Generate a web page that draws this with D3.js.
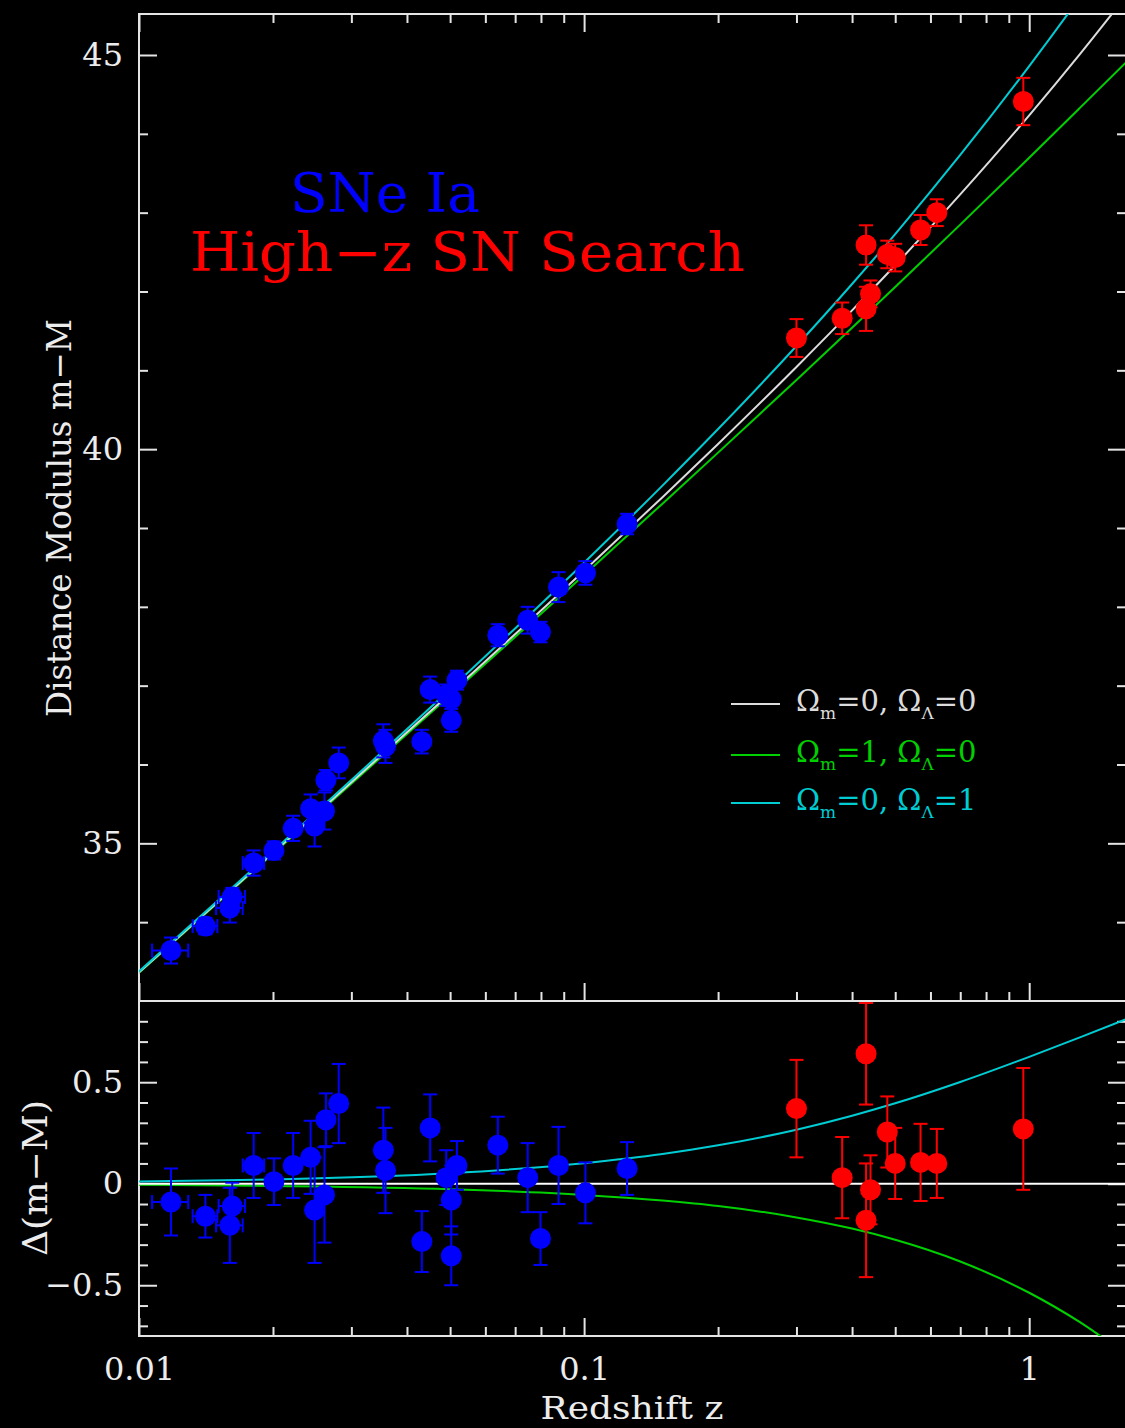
<!DOCTYPE html>
<html lang="en">
<head>
<meta charset="utf-8">
<script src="https://d3js.org/d3.v7.min.js"></script>
<title>SNe Ia Hubble diagram</title>
<style>
  body { margin: 0; background: #000; }
  svg { display: block; }
</style>
</head>
<body>
<script>

// low-z SNe Ia (blue)
var lowZ    = [0.0118, 0.0141, 0.0162, 0.0160, 0.0181, 0.0201, 0.0222, 0.0243, 0.0248, 0.0261, 0.0263, 0.0281, 0.0354,
               0.0358, 0.0432, 0.0451, 0.0490, 0.0518, 0.0503, 0.0503, 0.0640, 0.0747, 0.0798, 0.0876, 0.1007, 0.1249];
var lowZerr = [0.0011, 0.0009, 0.0011, 0.0011, 0.0010, 0, 0, 0, 0, 0, 0, 0, 0,
               0, 0, 0, 0, 0, 0, 0, 0, 0, 0, 0, 0, 0];
var lowMu   = [33.64, 33.95, 34.32, 34.18, 34.75, 34.91, 35.19, 35.44, 35.22, 35.41, 35.80, 36.02, 36.30,
               36.23, 36.29, 36.95, 36.88, 37.07, 36.83, 36.56, 37.64, 37.83, 37.68, 38.25, 38.43, 39.05];
var lowDmu  = [-0.09, -0.16, -0.11, -0.205, 0.09, 0.01, 0.09, 0.13, -0.13, -0.055, 0.315, 0.395, 0.165,
               0.065, -0.285, 0.275, 0.03, 0.09, -0.08, -0.355, 0.19, 0.03, -0.27, 0.09, -0.045, 0.075];
var lowErr  = [0.165, 0.105, 0.115, 0.185, 0.16, 0.115, 0.16, 0.18, 0.26, 0.235, 0.13, 0.195, 0.21,
               0.21, 0.15, 0.165, 0.135, 0.12, 0.17, 0.145, 0.14, 0.17, 0.13, 0.19, 0.15, 0.13];

// High-z SN Search (red)
var highZ   = [0.30, 0.38, 0.43, 0.44, 0.43, 0.48, 0.50, 0.57, 0.62, 0.97];
var highMu  = [41.41, 41.66, 42.59, 41.97, 41.78, 42.47, 42.43, 42.78, 43.00, 44.41];
var highDmu = [0.37, 0.03, 0.64, -0.03, -0.18, 0.255, 0.10, 0.105, 0.10, 0.27];
var highErr = [0.24, 0.20, 0.25, 0.17, 0.28, 0.175, 0.175, 0.19, 0.17, 0.30];

// model curves
var modelZ     = [0.01, 0.02, 0.05, 0.1, 0.15, 0.2, 0.3, 0.4, 0.5, 0.7, 1.0, 1.3, 1.65];
var muEmpty    = [33.364, 34.880, 36.902, 38.459, 39.391, 40.066, 41.043, 41.760, 42.333, 43.231, 44.234, 45.011, 45.747];
var muMatter   = [33.359, 34.869, 36.875, 38.404, 39.309, 39.956, 40.877, 41.539, 42.057, 42.848, 43.697, 44.329, 44.906];
var muLambda   = [33.375, 34.901, 36.954, 38.560, 39.538, 40.255, 41.309, 42.095, 42.729, 43.732, 44.859, 45.732, 46.557];
var resEmpty   = [0, 0, 0, 0, 0, 0, 0, 0, 0, 0, 0, 0, 0];
var resMatter  = [-0.005, -0.011, -0.027, -0.055, -0.083, -0.110, -0.166, -0.221, -0.276, -0.383, -0.537, -0.682, -0.841];
var resLambda  = [0.011, 0.021, 0.052, 0.101, 0.146, 0.189, 0.266, 0.335, 0.396, 0.501, 0.625, 0.721, 0.810];

// ticks
var xMajor      = [0.01, 0.1, 1];
var xMajorLabel = ["0.01", "0.1", "1"];
var xMinor      = [0.02, 0.03, 0.04, 0.05, 0.06, 0.07, 0.08, 0.09, 0.2, 0.3, 0.4, 0.5, 0.6, 0.7, 0.8, 0.9];
var muMajor     = [35, 40, 45];
var muMinor     = [34, 36, 37, 38, 39, 41, 42, 43, 44];
var resMajor      = [-0.5, 0, 0.5];
var resMajorLabel = ["\u22120.5", "0", "0.5"];
var resMinor      = [-0.7, -0.6, -0.4, -0.3, -0.2, -0.1, 0.1, 0.2, 0.3, 0.4, 0.6, 0.7, 0.8];

// legend
var legendOm     = ["0", "1", "0"];
var legendOl     = ["0", "0", "1"];
var legendColors = ["#dcdcdc", "#00d000", "#00ccd4"];

var frameColor = "#e4e4e4";
var serif = "'DejaVu Serif', 'Liberation Serif', serif";

var pLeft = 139, pRight = 1126, pTop = 14, pMid = 1001, pBottom = 1336;

var svg = d3.select("body").append("svg")
  .attr("width", 1125)
  .attr("height", 1428)
  .style("background", "#000");

var x = d3.scaleLog().domain([0.01, 1.65]).range([pLeft, pRight]);
var yMu = d3.scaleLinear().domain([33, 45.52]).range([pMid, pTop]);
var yRes = d3.scaleLinear().domain([-0.75, 0.9]).range([pBottom, pMid]);

var defs = svg.append("defs");
defs.append("clipPath").attr("id", "clipTop").append("rect")
  .attr("x", pLeft).attr("y", pTop).attr("width", pRight - pLeft).attr("height", pMid - pTop);
defs.append("clipPath").attr("id", "clipBot").append("rect")
  .attr("x", pLeft).attr("y", pMid).attr("width", pRight - pLeft).attr("height", pBottom - pMid);

function tickAxis(axis, values, size, tx, ty){
  svg.append("g")
    .attr("transform", "translate(" + tx + "," + ty + ")")
    .attr("color", frameColor)
    .call(axis.tickValues(values).tickSize(-size).tickFormat(""))
    .call(function (g){ g.select(".domain").remove(); })
    .selectAll("line").attr("stroke-width", 2);
}

// top panel ticks
tickAxis(d3.axisTop(x), xMajor, 18, 0, pTop);
tickAxis(d3.axisTop(x), xMinor, 9, 0, pTop);
tickAxis(d3.axisBottom(x), xMajor, 18, 0, pMid);
tickAxis(d3.axisBottom(x), xMinor, 9, 0, pMid);
tickAxis(d3.axisLeft(yMu), muMajor, 18, pLeft, 0);
tickAxis(d3.axisLeft(yMu), muMinor, 9, pLeft, 0);
tickAxis(d3.axisRight(yMu), muMajor, 18, pRight, 0);
tickAxis(d3.axisRight(yMu), muMinor, 9, pRight, 0);

// bottom panel ticks
tickAxis(d3.axisBottom(x), xMajor, 18, 0, pBottom);
tickAxis(d3.axisBottom(x), xMinor, 9, 0, pBottom);
tickAxis(d3.axisLeft(yRes), resMajor, 18, pLeft, 0);
tickAxis(d3.axisLeft(yRes), resMinor, 9, pLeft, 0);
tickAxis(d3.axisRight(yRes), resMajor, 18, pRight, 0);
tickAxis(d3.axisRight(yRes), resMinor, 9, pRight, 0);

// frames
svg.append("rect").attr("x", pLeft).attr("y", pTop)
  .attr("width", pRight - pLeft).attr("height", pMid - pTop)
  .attr("fill", "none").attr("stroke", frameColor).attr("stroke-width", 2);
svg.append("rect").attr("x", pLeft).attr("y", pMid)
  .attr("width", pRight - pLeft).attr("height", pBottom - pMid)
  .attr("fill", "none").attr("stroke", frameColor).attr("stroke-width", 2);

// tick labels
function labelAxis(axis, values, labels, pad, tx, ty){
  var g = svg.append("g")
    .attr("transform", "translate(" + tx + "," + ty + ")")
    .call(axis.tickValues(values).tickSize(0).tickPadding(pad)
      .tickFormat(function (d, i){ return labels[i]; }));
  g.select(".domain").remove();
  g.selectAll("text")
    .attr("fill", "#ececec")
    .style("font-family", serif)
    .style("font-size", "32px");
}
labelAxis(d3.axisBottom(x), xMajor, xMajorLabel, 21, 0, pBottom);
labelAxis(d3.axisLeft(yMu), muMajor, muMajor.map(String), 16, pLeft, 0);
labelAxis(d3.axisLeft(yRes), resMajor, resMajorLabel, 16, pLeft, 0);

// axis titles
svg.append("text")
  .attr("x", 632).attr("y", 1419)
  .attr("text-anchor", "middle")
  .attr("fill", "#ececec")
  .attr("textLength", 183).attr("lengthAdjust", "spacingAndGlyphs")
  .style("font-family", serif).style("font-size", "32px")
  .text("Redshift z");
svg.append("text")
  .attr("transform", "translate(71,518) rotate(-90)")
  .attr("text-anchor", "middle")
  .attr("fill", "#ececec")
  .attr("textLength", 398).attr("lengthAdjust", "spacingAndGlyphs")
  .style("font-family", serif).style("font-size", "34px")
  .text("Distance Modulus m\u2212M");
svg.append("text")
  .attr("transform", "translate(47,1178) rotate(-90)")
  .attr("text-anchor", "middle")
  .attr("fill", "#ececec")
  .attr("textLength", 156).attr("lengthAdjust", "spacingAndGlyphs")
  .style("font-family", serif).style("font-size", "34px")
  .text("\u0394(m\u2212M)");

// titles inside plot
svg.append("text")
  .attr("x", 290).attr("y", 212)
  .attr("fill", "#0000ff")
  .attr("textLength", 190).attr("lengthAdjust", "spacingAndGlyphs")
  .style("font-family", serif).style("font-size", "54px")
  .text("SNe Ia");
svg.append("text")
  .attr("x", 190).attr("y", 271)
  .attr("fill", "#ff0000")
  .attr("textLength", 555).attr("lengthAdjust", "spacingAndGlyphs")
  .style("font-family", serif).style("font-size", "54px")
  .text("High\u2212z SN Search");

// model curves
function drawCurve(g, ys, yScale, color){
  var pts = modelZ.map(function (z, i){ return {z: z, v: ys[i]}; });
  var line = d3.line()
    .x(function (d){ return x(d.z); })
    .y(function (d){ return yScale(d.v); })
    .curve(d3.curveMonotoneX);
  g.append("path").datum(pts)
    .attr("d", line)
    .attr("fill", "none")
    .attr("stroke", color)
    .attr("stroke-width", 2);
}

var gTop = svg.append("g").attr("clip-path", "url(#clipTop)");
var gBot = svg.append("g").attr("clip-path", "url(#clipBot)");

drawCurve(gTop, muMatter, yMu, legendColors[1]);
drawCurve(gTop, muEmpty, yMu, legendColors[0]);
drawCurve(gTop, muLambda, yMu, legendColors[2]);

drawCurve(gBot, resMatter, yRes, legendColors[1]);
drawCurve(gBot, resLambda, yRes, legendColors[2]);
drawCurve(gBot, resEmpty, yRes, "#ffffff");

// data points with error bars
function drawPoints(g, zs, vals, errs, zerrs, yScale, color){
  var data = zs.map(function (z, i){
    return {z: z, v: vals[i], e: errs[i], ze: zerrs ? zerrs[i] : 0};
  });
  var cap = 7;
  var pts = g.selectAll(null).data(data).enter().append("g")
    .attr("stroke", color).attr("stroke-width", 2).attr("fill", color);

  pts.append("line")
    .attr("x1", function (d){ return x(d.z); })
    .attr("x2", function (d){ return x(d.z); })
    .attr("y1", function (d){ return yScale(d.v - d.e); })
    .attr("y2", function (d){ return yScale(d.v + d.e); });
  pts.append("line")
    .attr("x1", function (d){ return x(d.z) - cap; })
    .attr("x2", function (d){ return x(d.z) + cap; })
    .attr("y1", function (d){ return yScale(d.v + d.e); })
    .attr("y2", function (d){ return yScale(d.v + d.e); });
  pts.append("line")
    .attr("x1", function (d){ return x(d.z) - cap; })
    .attr("x2", function (d){ return x(d.z) + cap; })
    .attr("y1", function (d){ return yScale(d.v - d.e); })
    .attr("y2", function (d){ return yScale(d.v - d.e); });

  var withZ = pts.filter(function (d){ return d.ze > 0; });
  withZ.append("line")
    .attr("x1", function (d){ return x(d.z - d.ze); })
    .attr("x2", function (d){ return x(d.z + d.ze); })
    .attr("y1", function (d){ return yScale(d.v); })
    .attr("y2", function (d){ return yScale(d.v); });
  withZ.append("line")
    .attr("x1", function (d){ return x(d.z - d.ze); })
    .attr("x2", function (d){ return x(d.z - d.ze); })
    .attr("y1", function (d){ return yScale(d.v) - cap; })
    .attr("y2", function (d){ return yScale(d.v) + cap; });
  withZ.append("line")
    .attr("x1", function (d){ return x(d.z + d.ze); })
    .attr("x2", function (d){ return x(d.z + d.ze); })
    .attr("y1", function (d){ return yScale(d.v) - cap; })
    .attr("y2", function (d){ return yScale(d.v) + cap; });

  pts.append("circle")
    .attr("cx", function (d){ return x(d.z); })
    .attr("cy", function (d){ return yScale(d.v); })
    .attr("r", 10.5)
    .attr("stroke", "none");
}

drawPoints(gTop, lowZ, lowMu, lowErr, lowZerr, yMu, "#0000ff");
drawPoints(gTop, highZ, highMu, highErr, null, yMu, "#ff0000");
drawPoints(gBot, lowZ, lowDmu, lowErr, lowZerr, yRes, "#0000ff");
drawPoints(gBot, highZ, highDmu, highErr, null, yRes, "#ff0000");

// legend
var legendY = [704, 755, 803];
var legend = svg.append("g");
legendColors.forEach(function (c, i){
  legend.append("line")
    .attr("x1", 731).attr("x2", 780)
    .attr("y1", legendY[i]).attr("y2", legendY[i])
    .attr("stroke", c).attr("stroke-width", 2);
  var t = legend.append("text")
    .attr("x", 796).attr("y", legendY[i] + 7)
    .attr("fill", c)
    .style("font-family", serif).style("font-size", "29px");
  t.append("tspan").text("\u03a9");
  t.append("tspan").attr("dy", 8).style("font-size", "17px").text("m");
  t.append("tspan").attr("dy", -8).text("=" + legendOm[i] + ",  \u03a9");
  t.append("tspan").attr("dy", 8).style("font-size", "17px").text("\u039b");
  t.append("tspan").attr("dy", -8).text("=" + legendOl[i]);
});

</script>
</body>
</html>
